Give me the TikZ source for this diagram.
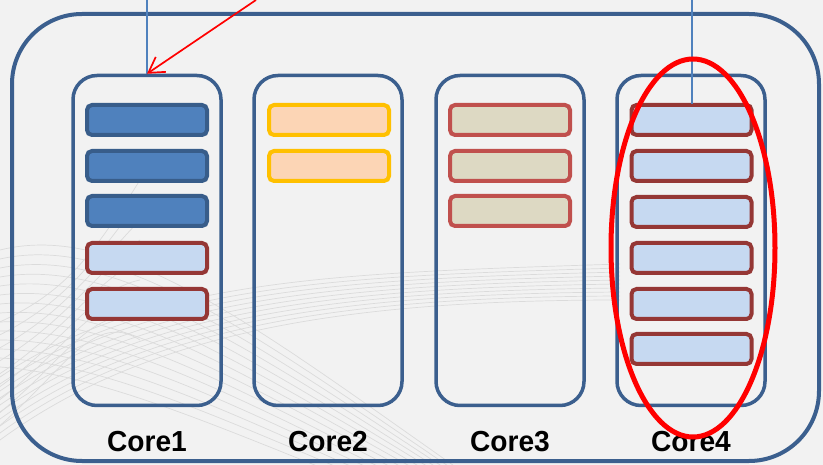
\documentclass[tikz,border=0pt]{standalone}
\usepackage{fontspec}
\setmainfont{Liberation Sans}
\usetikzlibrary{arrows.meta,shapes.geometric}
\definecolor{frameblue}{HTML}{3B5F8E}
\definecolor{taskblue}{HTML}{4F81BD}
\definecolor{taskbluedk}{HTML}{385D8A}
\definecolor{lightfill}{HTML}{C6D9F1}
\definecolor{darkred}{HTML}{953735}
\definecolor{peach}{HTML}{FCD5B5}
\definecolor{amber}{HTML}{FFC000}
\definecolor{tan}{HTML}{DDD9C3}
\definecolor{brick}{HTML}{C0504D}
\definecolor{bggray}{HTML}{F2F2F2}
\tikzset{
  corebox/.style={draw=frameblue, line width=3.5pt, rounded corners=24pt,
    minimum width=148pt, minimum height=330pt, inner sep=0pt},
  bar/.style={line width=4pt, rounded corners=5pt,
    minimum width=120pt, minimum height=30pt, inner sep=0pt},
  darkbar/.style={bar, draw=taskbluedk, fill=taskblue},
  lightbar/.style={bar, draw=darkred, fill=lightfill},
  peachbar/.style={bar, draw=amber, fill=peach},
  tanbar/.style={bar, draw=brick, fill=tan},
  corelabel/.style={font=\fontsize{29}{29}\selectfont\bfseries, inner sep=0pt,
    anchor=base, xscale=0.97},
  pointer/.style={draw=taskblue, line width=1.5pt},
  wave/.style={draw=gray!28, line width=0.7pt}
}
\begin{document}
\begin{tikzpicture}[x=1pt,y=-1pt]
  % canvas
  \useasboundingbox (0,0) rectangle (823,465);
  \fill[bggray] (0,0) rectangle (823,465);
  \begin{scope}
    \clip (0,0) rectangle (823,465);
    \foreach \i in {0,...,13} {
      \draw[wave] (0,{250+\i*9}) .. controls (120,{220+\i*12}) and (260,{330+\i*9}) .. (460,{470+\i*4});
    }
    \foreach \i in {0,...,9} {
      \draw[wave] (0,{440-\i*7}) .. controls (150,{330-\i*6}) and (350,{300-\i*3}) .. (620,{300-\i*4});
    }
    \foreach \i in {0,...,8} {
      \draw[wave] (-20,{330+\i*14}) .. controls (60,{300+\i*10}) and (90,{260+\i*6}) .. (140,{180+\i*20});
    }
  \end{scope}

  % enclosing processor frame
  \node[draw=frameblue, line width=4pt, rounded corners=70pt,
        minimum width=807pt, minimum height=447pt, inner sep=0pt] (cpu) at (415.5,237.5) {};

  % cores
  \node[corebox] (c1) at (147,240.5) {};
  \node[corebox] (c2) at (328,240.5) {};
  \node[corebox] (c3) at (510,240.5) {};
  \node[corebox] (c4) at (691,240.5) {};

  % core 1 run queue
  \node[darkbar]  (c1a) at (147,120) {};
  \node[darkbar]  (c1b) at (147,166) {};
  \node[darkbar]  (c1c) at (147,211) {};
  \node[lightbar] (c1d) at (147,258) {};
  \node[lightbar] (c1e) at (147,304) {};

  % core 2 run queue
  \node[peachbar] (c2a) at (329,120) {};
  \node[peachbar] (c2b) at (329,166) {};

  % core 3 run queue
  \node[tanbar] (c3a) at (510,120) {};
  \node[tanbar] (c3b) at (510,166) {};
  \node[tanbar] (c3c) at (510,211) {};

  % core 4 run queue
  \foreach \k/\y in {a/120,b/166,c/212,d/258,e/304,f/349} {
    \node[lightbar] (c4\k) at (691.5,\y) {};
  }

  % labels
  \node[corelabel] (l1) at (147,451) {Core1};
  \node[corelabel] (l2) at (328,451) {Core2};
  \node[corelabel] (l3) at (510,451) {Core3};
  \node[corelabel] (l4) at (691,451) {Core4};

  % incoming pointers
  \coordinate (in1) at (147,0);
  \coordinate (in4) at (692,0);
  \coordinate (inred) at (256,0);
  \draw[pointer] (in1) -- (c1.north);
  \draw[pointer] (in4) -- ([yshift=-1pt]c4a.north -| in4);
  \draw[red, line width=1.7pt, -{Straight Barb[length=15pt,width=18pt]}] (inred) -- (c1.north);

  % highlight around core 4
  \node[draw=red, line width=5pt, ellipse, minimum width=164pt, minimum height=378pt,
        inner sep=0pt] (hl) at (693,248) {};
\end{tikzpicture}
\end{document}
